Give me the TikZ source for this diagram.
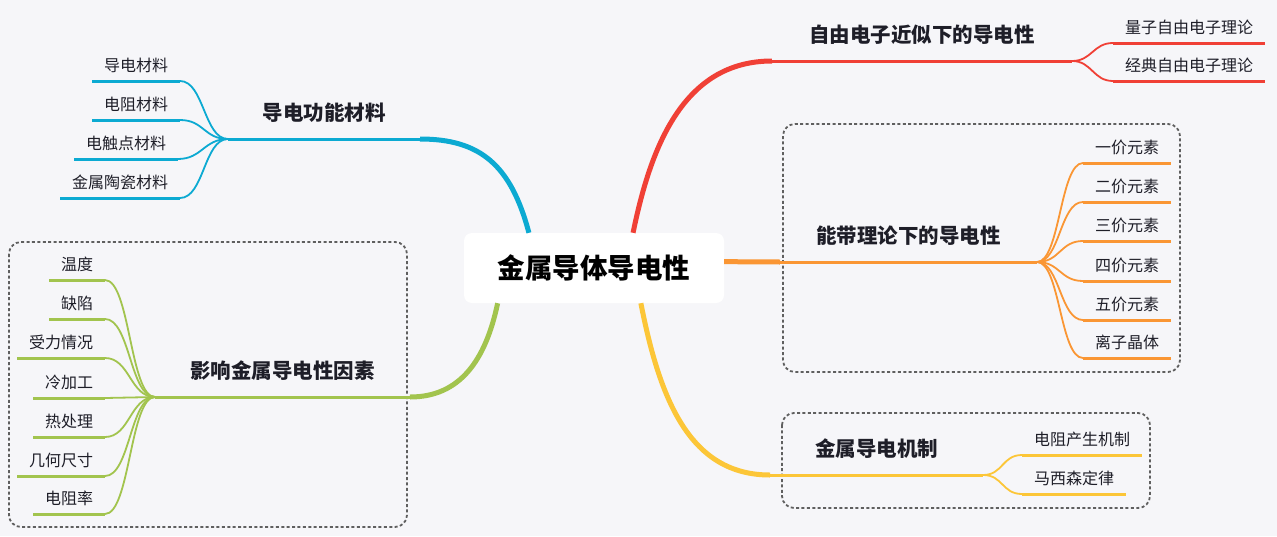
\documentclass[tikz,border=0pt]{standalone}
\usepackage{fontspec}
\setmainfont{Noto Sans CJK SC}
\usetikzlibrary{calc}
\definecolor{bg}{RGB}{246,246,249}
\definecolor{cyanb}{RGB}{12,170,210}
\definecolor{greenb}{RGB}{162,196,78}
\definecolor{redb}{RGB}{240,64,54}
\definecolor{orangeb}{RGB}{250,150,52}
\definecolor{yellowb}{RGB}{252,198,56}
\definecolor{ink}{RGB}{30,30,40}
\definecolor{frame}{RGB}{95,95,95}

\begin{document}
\begin{tikzpicture}[
  x=1pt, y=-1pt,
  root/.style={fill=white, rounded corners=8pt, minimum width=260pt,
    minimum height=70pt, font=\fontsize{27.5}{30}\selectfont\bfseries},
  branch/.style={anchor=south, inner xsep=0pt, inner ysep=17pt, outer sep=0pt,
    text height=16.4pt, text depth=2pt, text=ink,
    font=\fontsize{20.5}{24}\selectfont\bfseries},
  leaf/.style={inner xsep=12pt, inner ysep=7.5pt, outer sep=0pt,
    text height=12.8pt, text depth=1.6pt, text=ink,
    font=\fontsize{16}{19}\selectfont},
  lleaf/.style={leaf, anchor=south east},
  rleaf/.style={leaf, anchor=south west},
  group/.style={draw=frame, line width=1.8pt, dash pattern=on 3pt off 2.4pt,
    rounded corners=12pt},
  trunk/.style={line width=5pt},
  limb/.style={line width=3pt},
  twig/.style={line width=1.8pt}
]
\fill[bg] (0,0) rectangle (1277,536);
\useasboundingbox (0,0) rectangle (1277,536);

% dashed groups
\draw[group] (9,242) rectangle (407,527);
\draw[group] (783,124) rectangle (1180,372);
\draw[group] (782,413) rectangle (1150,508);

% centre and main branches
\node[root] (root) at (594,268) {金属导体导电性};
\node[branch, minimum width=192pt] (func) at (324,139) {导电功能材料};
\node[branch, minimum width=255pt] (infl) at (282.5,397) {影响金属导电性因素};
\node[branch, minimum width=300pt] (free) at (922,61) {自由电子近似下的导电性};
\node[branch, minimum width=257pt] (band) at (908.5,262) {能带理论下的导电性};
\node[branch, minimum width=213pt] (mech) at (876.5,475) {金属导电机制};

% leaves
\node[lleaf] (c1) at (180,81) {导电材料};
\node[lleaf] (c2) at (180,120) {电阻材料};
\node[lleaf] (c3) at (178,159) {电触点材料};
\node[lleaf] (c4) at (180,198) {金属陶瓷材料};

\node[lleaf] (g1) at (105,280) {温度};
\node[lleaf] (g2) at (105,319) {缺陷};
\node[lleaf] (g3) at (105,358) {受力情况};
\node[lleaf] (g4) at (105,398) {冷加工};
\node[lleaf] (g5) at (105,437) {热处理};
\node[lleaf] (g6) at (105,476) {几何尺寸};
\node[lleaf] (g7) at (105,514) {电阻率};

\node[rleaf] (r1) at (1113,43) {量子自由电子理论};
\node[rleaf] (r2) at (1113,81) {经典自由电子理论};

\node[rleaf] (o1) at (1083,163) {一价元素};
\node[rleaf] (o2) at (1083,202) {二价元素};
\node[rleaf] (o3) at (1083,241) {三价元素};
\node[rleaf] (o4) at (1083,281) {四价元素};
\node[rleaf] (o5) at (1083,320) {五价元素};
\node[rleaf] (o6) at (1083,358) {离子晶体};

\node[rleaf] (y1) at (1022,455) {电阻产生机制};
\node[rleaf] (y2) at (1022,494) {马西森定律};

% trunks from the centre
\draw[cyanb, trunk] ($(root.north west)!0.25!(root.north east)$)
  .. controls +(-18,-68) and +(60,0) .. (func.south east);
\draw[redb, trunk] ($(root.north west)!0.65!(root.north east)$)
  .. controls +(17,-83) and +(-90,0) .. (free.south west);
\draw[orangeb, trunk] ($(root.north east)!0.41!(root.south east)$)
  -- (band.south west);
\draw[greenb, trunk] ($(root.south west)!0.13!(root.south east)$)
  .. controls +(-12,57) and +(50,0) .. (infl.south east);
\draw[yellowb, trunk] ($(root.south west)!0.68!(root.south east)$)
  .. controls +(19,97) and +(-80,0) .. (mech.south west);

% branch lines
\draw[cyanb, limb] (func.south east) -- (func.south west);
\draw[greenb, limb] (infl.south east) -- (infl.south west);
\draw[redb, limb] (free.south west) -- (free.south east);
\draw[orangeb, limb] (band.south west) -- (band.south east);
\draw[yellowb, limb] (mech.south west) -- (mech.south east);

% twigs to the leaves
\foreach \i in {1,...,4} {
  \draw[cyanb, limb] (c\i.south west) -- (c\i.south east);
  \draw[cyanb, twig] (c\i.south east)
    .. controls +(24,0) and +(-24,0) .. (func.south west);
}
\foreach \i in {1,...,7} {
  \draw[greenb, limb] (g\i.south west) -- (g\i.south east);
  \draw[greenb, twig] (g\i.south east)
    .. controls +(25,0) and +(-25,0) .. (infl.south west);
}
\foreach \i in {1,2} {
  \draw[redb, limb] (r\i.south west) -- (r\i.south east);
  \draw[redb, twig] (free.south east)
    .. controls +(20,0) and +(-20,0) .. (r\i.south west);
}
\foreach \i in {1,...,6} {
  \draw[orangeb, limb] (o\i.south west) -- (o\i.south east);
  \draw[orangeb, twig] (band.south east)
    .. controls +(23,0) and +(-23,0) .. (o\i.south west);
}
\foreach \i in {1,2} {
  \draw[yellowb, limb] (y\i.south west) -- (y\i.south east);
  \draw[yellowb, twig] (mech.south east)
    .. controls +(20,0) and +(-20,0) .. (y\i.south west);
}
\end{tikzpicture}
\end{document}
